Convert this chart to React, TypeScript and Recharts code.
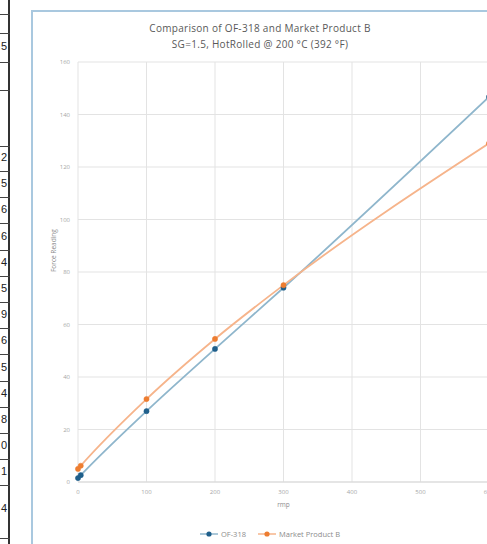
import { CartesianGrid, Line, LineChart, XAxis, YAxis } from 'recharts';

const rpm = [0, 4, 100, 200, 300, 600];
const of318 = [1.5, 2.6, 27, 50.7, 74, 146.7];
const marketB = [5, 6.2, 31.6, 54.5, 75, 129];
const xTicks = [0, 100, 200, 300, 400, 500, 600];
const yTicks = [0, 20, 40, 60, 80, 100, 120, 140, 160];

// digits peeking out of the sheet column on the left
const sheetDigits = ['2', '5', '6', '6', '4', '5', '9', '6', '5', '4', '8', '0', '1'];

const BLUE_LINE = '#8fb6cc';
const BLUE_DOT = '#1f5f8b';
const ORANGE_LINE = '#f6b48b';
const ORANGE_DOT = '#ed7d31';
const FONT = 'Open Sans, Liberation Sans, sans-serif';

const data = rpm.map((r, i) => ({ rpm: r, of318: of318[i], marketB: marketB[i] }));

function LegendBox() {
  const item = (line: string, dot: string, label: string) => (
    <span style={{ display: 'inline-flex', alignItems: 'center', marginRight: 12 }}>
      <svg width={18} height={8}>
        <line x1={0} y1={4} x2={18} y2={4} stroke={line} strokeWidth={1.5} />
        <circle cx={9} cy={4} r={2.6} fill={dot} />
      </svg>
      <span style={{ marginLeft: 3 }}>{label}</span>
    </span>
  );
  return (
    <div
      style={{
        position: 'absolute',
        left: 167,
        top: 517,
        fontFamily: FONT,
        fontSize: 7.5,
        color: '#8c8c8c',
        whiteSpace: 'nowrap',
      }}
    >
      {item(BLUE_LINE, BLUE_DOT, 'OF-318')}
      {item(ORANGE_LINE, ORANGE_DOT, 'Market Product B')}
    </div>
  );
}

function SheetColumn() {
  return (
    <div style={{ position: 'absolute', left: 0, top: 0, width: 10, height: 544, overflow: 'hidden' }}>
      <div style={{ position: 'absolute', right: 0, top: 0, width: 2, height: 544, background: '#333' }} />
      {[14, 33, 62, 90, 146].map((y) => (
        <div key={y} style={{ position: 'absolute', left: 0, top: y, width: 10, height: 1, background: '#444' }} />
      ))}
      <div style={{ position: 'absolute', right: 3, top: 40, font: '11px Liberation Sans', color: '#222' }}>5</div>
      {sheetDigits.map((d, i) => (
        <div key={i}>
          <div style={{ position: 'absolute', right: 3, top: 151 + i * 26.2, font: '11px Liberation Sans', color: '#222' }}>{d}</div>
          <div style={{ position: 'absolute', left: 0, top: 171 + i * 26.2, width: 10, height: 1, background: '#444' }} />
        </div>
      ))}
      <div style={{ position: 'absolute', right: 3, top: 502, font: '11px Liberation Sans', color: '#222' }}>4</div>
      <div style={{ position: 'absolute', left: 0, top: 538, width: 10, height: 1, background: '#444' }} />
    </div>
  );
}

export default function App() {
  return (
    <div style={{ position: 'fixed', left: 0, top: 0, width: 487, height: 544, overflow: 'hidden', background: '#fff' }}>
      <SheetColumn />
      <div
        style={{
          position: 'absolute',
          left: 31,
          top: 10,
          width: 520,
          height: 560,
          border: '2px solid #a9c8df',
          background: '#fff',
        }}
      >
        <div
          style={{
            position: 'absolute',
            left: 0,
            top: 8,
            width: 454,
            textAlign: 'center',
            fontFamily: FONT,
            fontSize: 10,
            letterSpacing: 0.3,
            lineHeight: '16px',
            color: '#595959',
          }}
        >
          <div>Comparison of OF-318 and Market Product B</div>
          <div>SG=1.5, HotRolled @ 200 °C (392 °F)</div>
        </div>
        <LineChart width={476} height={540} data={data} margin={{ top: 50, right: 20, bottom: 40, left: 8 }}>
          <CartesianGrid stroke="#e3e3e3" strokeWidth={1} />
          <XAxis
            dataKey="rpm"
            type="number"
            domain={[0, 600]}
            ticks={xTicks}
            tick={{ fontSize: 6, fill: '#a6a6a6', fontFamily: FONT }}
            axisLine={{ stroke: '#d9d9d9' }}
            tickLine={false}
            height={30}
            label={{ value: 'rmp', position: 'insideBottom', offset: 5, fontSize: 6.5, fill: '#8c8c8c', fontFamily: FONT }}
          />
          <YAxis
            type="number"
            domain={[0, 160]}
            ticks={yTicks}
            tick={{ fontSize: 6, fill: '#a6a6a6', fontFamily: FONT }}
            axisLine={false}
            tickLine={false}
            width={37}
            label={{ value: 'Force Reading', angle: -90, position: 'insideLeft', offset: 13, fontSize: 6.5, fill: '#8c8c8c', fontFamily: FONT }}
          />
          <Line
            type="monotone"
            dataKey="of318"
            name="OF-318"
            stroke={BLUE_LINE}
            strokeWidth={1.8}
            dot={{ r: 2.6, fill: BLUE_DOT, stroke: BLUE_DOT, strokeWidth: 0.5 }}
            isAnimationActive={false}
          />
          <Line
            type="monotone"
            dataKey="marketB"
            name="Market Product B"
            stroke={ORANGE_LINE}
            strokeWidth={1.8}
            dot={{ r: 2.6, fill: ORANGE_DOT, stroke: ORANGE_DOT, strokeWidth: 0.5 }}
            isAnimationActive={false}
          />
        </LineChart>
        <LegendBox />
      </div>
    </div>
  );
}
